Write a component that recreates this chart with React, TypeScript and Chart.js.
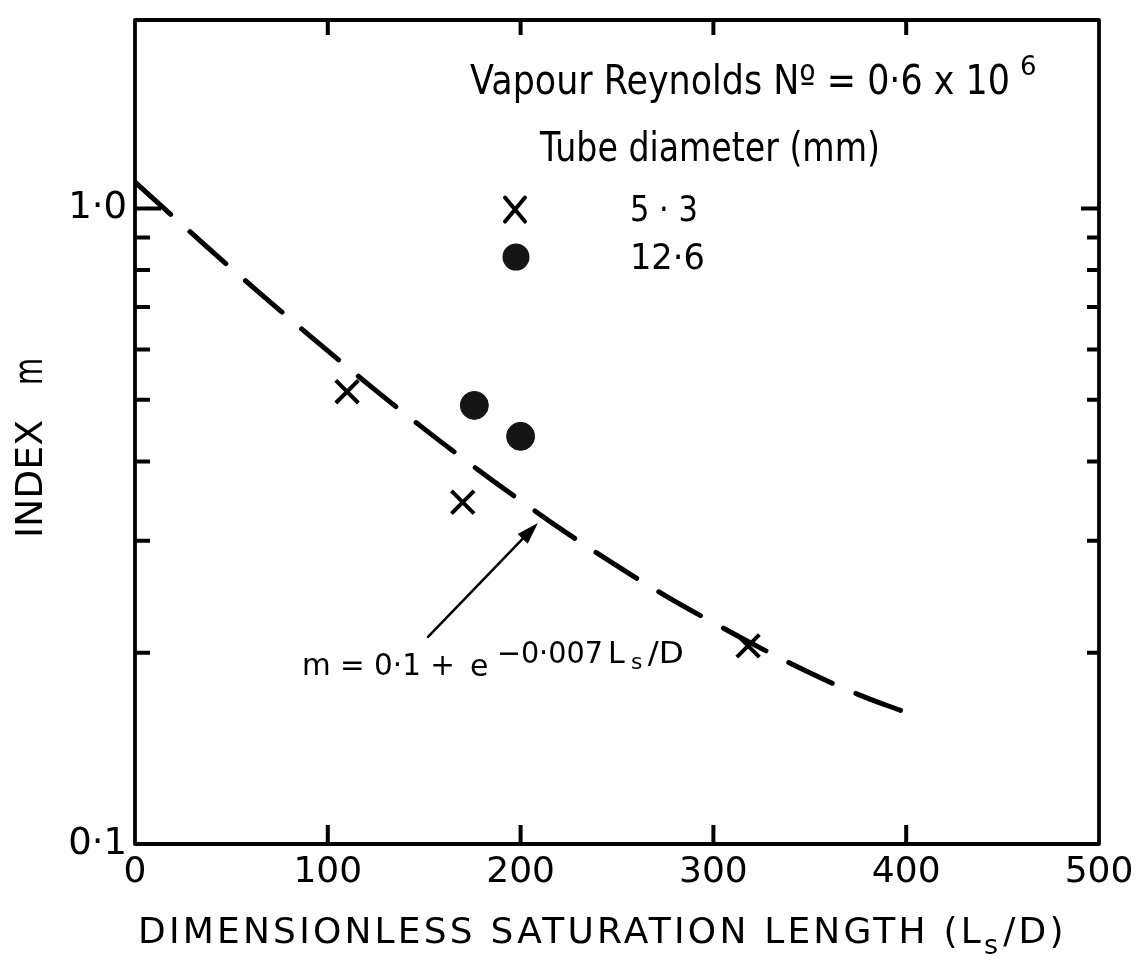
import React, { useEffect, useRef } from 'react';
import { Chart, registerables } from 'chart.js';

Chart.register(...registerables);

// ---- data ----
const curveLsD = [0, 25, 50, 75, 100, 125, 150, 175, 200, 225, 250, 275, 300, 325, 350, 375, 400];
const curveM = [1.1, 0.94, 0.805, 0.692, 0.597, 0.517, 0.45, 0.394, 0.347, 0.307, 0.274, 0.246, 0.223, 0.203, 0.186, 0.172, 0.161];

const tube53LsD = [110, 170, 318];
const tube53M = [0.515, 0.345, 0.205];

const tube126LsD = [176, 200];
const tube126M = [0.49, 0.438];

const xTickMarks = [100, 200, 300, 400];
const yMajorTicks = [0.1, 1.0];
const yMajorLabels = ['0·1', '1·0'];
const yMinorTicks = [0.2, 0.3, 0.4, 0.5, 0.6, 0.7, 0.8, 0.9];

const legendTitle = 'Tube diameter (mm)';
const legendLabels = ['5 · 3', '12·6'];
const headerText = 'Vapour Reynolds Nº = 0·6 x 10';
const headerExp = '6';

const FONT = '"DejaVu Sans", sans-serif';

function drawText(ctx: CanvasRenderingContext2D, s: string, x: number, y: number, size: number, width?: number) {
  ctx.save();
  ctx.font = `${size}px ${FONT}`;
  ctx.textAlign = 'left';
  ctx.textBaseline = 'alphabetic';
  const w = ctx.measureText(s).width;
  ctx.translate(x, y);
  if (width) ctx.scale(width / w, 1);
  ctx.fillText(s, 0, 0);
  ctx.restore();
}

const framePlugin = {
  id: 'frameAndNotes',
  afterDraw(chart: any) {
    const { ctx, chartArea, scales } = chart;
    const { left, right, top, bottom } = chartArea;
    const xs = scales.x;
    const ys = scales.y;
    const X = (v: number) => xs.getPixelForValue(v);
    const Y = (v: number) => ys.getPixelForValue(v);
    ctx.save();
    ctx.strokeStyle = '#000';
    ctx.fillStyle = '#000';
    // frame
    ctx.lineWidth = 3.8;
    ctx.lineJoin = 'round';
    ctx.strokeRect(left, top, right - left, bottom - top);
    // inward ticks
    ctx.lineWidth = 4;
    ctx.lineCap = 'butt';
    ctx.beginPath();
    for (const v of xTickMarks) {
      const px = X(v);
      ctx.moveTo(px, bottom);
      ctx.lineTo(px, bottom - 19);
      ctx.moveTo(px, top);
      ctx.lineTo(px, top + 15);
    }
    for (const v of yMinorTicks) {
      const py = Y(v);
      ctx.moveTo(left, py);
      ctx.lineTo(left + 15, py);
      ctx.moveTo(right, py);
      ctx.lineTo(right - 12, py);
    }
    const p1 = Y(1.0);
    ctx.moveTo(left, p1);
    ctx.lineTo(left + 26, p1);
    ctx.moveTo(right, p1);
    ctx.lineTo(right - 18, p1);
    ctx.stroke();

    // y axis title (rotated)
    ctx.save();
    ctx.translate(42, 538);
    ctx.rotate(-Math.PI / 2);
    drawText(ctx, 'INDEX', 0, 0, 37, 118);
    drawText(ctx, 'm', 153, 0, 40, 27);
    ctx.restore();

    // x axis title with subscript
    ctx.save();
    (ctx as any).letterSpacing = '3.2px';
    ctx.font = `36px ${FONT}`;
    let cx = 138;
    const base = 943;
    const part1 = 'DIMENSIONLESS SATURATION LENGTH (L';
    ctx.fillText(part1, cx, base);
    cx += ctx.measureText(part1).width;
    ctx.font = `27px ${FONT}`;
    ctx.fillText('s', cx, base + 11);
    cx += ctx.measureText('s').width + 2;
    ctx.font = `36px ${FONT}`;
    ctx.fillText('/D)', cx, base);
    ctx.restore();

    // header
    drawText(ctx, headerText, X(173.8), Y(1.512), 41, X(453.8) - X(173.8));
    drawText(ctx, headerExp, X(459), Y(1.624), 26);
    drawText(ctx, legendTitle, X(210.1), Y(1.188), 40, X(386.4) - X(210.1));

    // legend markers
    const lx = X(197.1), ly = Y(0.9964);
    ctx.lineWidth = 4;
    ctx.lineCap = 'round';
    ctx.beginPath();
    ctx.moveTo(lx - 10, ly - 12);
    ctx.lineTo(lx + 10, ly + 12);
    ctx.moveTo(lx + 10, ly - 12);
    ctx.lineTo(lx - 10, ly + 12);
    ctx.stroke();
    drawText(ctx, legendLabels[0], X(256.7), Y(0.9544), 36, 68);

    ctx.fillStyle = '#151515';
    ctx.beginPath();
    ctx.arc(X(197.6), Y(0.8386), 13.5, 0, Math.PI * 2);
    ctx.fill();
    ctx.fillStyle = '#000';
    drawText(ctx, legendLabels[1], X(256.7), Y(0.803), 36, 75);

    // formula
    const fb = Y(0.1848);
    drawText(ctx, 'm = 0·1 +', X(86.6), fb, 30, 153);
    drawText(ctx, 'e', X(173.8), fb + 1, 30);
    const sb = fb - 12;
    drawText(ctx, '−0·007', X(187.7), sb, 30, 106);
    drawText(ctx, 'L', X(245.3), sb, 30);
    drawText(ctx, 's', X(257.2), sb + 6, 22);
    drawText(ctx, '/D', X(266), sb, 30, 36);

    // arrow
    const ax0 = X(152), ay0 = Y(0.2118);
    const ax1 = X(209), ay1 = Y(0.32);
    const ang = Math.atan2(ay1 - ay0, ax1 - ax0);
    ctx.lineWidth = 2.5;
    ctx.lineCap = 'round';
    ctx.beginPath();
    ctx.moveTo(ax0, ay0);
    ctx.lineTo(ax1 - 18 * Math.cos(ang), ay1 - 18 * Math.sin(ang));
    ctx.stroke();
    ctx.beginPath();
    ctx.moveTo(ax1, ay1);
    ctx.lineTo(ax1 - 22 * Math.cos(ang) + 7 * Math.sin(ang), ay1 - 22 * Math.sin(ang) - 7 * Math.cos(ang));
    ctx.lineTo(ax1 - 22 * Math.cos(ang) - 7 * Math.sin(ang), ay1 - 22 * Math.sin(ang) + 7 * Math.cos(ang));
    ctx.closePath();
    ctx.fill();

    ctx.restore();
  },
};

export default function App() {
  const ref = useRef<HTMLCanvasElement | null>(null);
  useEffect(() => {
    if (!ref.current) return;
    const chart = new Chart(ref.current, {
      type: 'scatter',
      data: {
        datasets: [
          {
            label: 'm = 0·1 + e^(−0·007 Ls/D)',
            data: curveLsD.map((x, i) => ({ x, y: curveM[i] })),
            showLine: true,
            borderColor: '#000',
            borderWidth: 5,
            borderDash: [48, 26],
            borderCapStyle: 'round',
            pointRadius: 0,
            tension: 0.4,
            fill: false,
          } as any,
          {
            label: '5·3',
            data: tube53LsD.map((x, i) => ({ x, y: tube53M[i] })),
            pointStyle: 'crossRot',
            pointRadius: 16,
            borderColor: '#000',
            borderWidth: 4,
            showLine: false,
          },
          {
            label: '12·6',
            data: tube126LsD.map((x, i) => ({ x, y: tube126M[i] })),
            pointStyle: 'circle',
            pointRadius: 14,
            backgroundColor: '#151515',
            borderColor: '#151515',
            borderWidth: 1,
            showLine: false,
          },
        ],
      },
      options: {
        animation: false,
        responsive: false,
        devicePixelRatio: 1,
        layout: { padding: { left: 0, top: 13, right: 43, bottom: 0 } },
        plugins: {
          legend: { display: false },
          tooltip: { enabled: false },
          title: { display: false },
        },
        scales: {
          x: {
            type: 'linear',
            min: 0,
            max: 500,
            grid: { display: false, drawTicks: false },
            border: { display: false },
            ticks: {
              stepSize: 100,
              padding: 7,
              color: '#000',
              maxRotation: 0,
              autoSkip: false,
              font: { family: FONT, size: 36 },
            },
            afterFit(s: any) {
              s.height = 117;
              s.paddingLeft = 0;
              s.paddingRight = 0;
            },
          },
          y: {
            type: 'logarithmic',
            min: 0.1,
            max: 1.98,
            grid: { display: false, drawTicks: false },
            border: { display: false },
            ticks: {
              padding: 8,
              color: '#000',
              autoSkip: false,
              font: { family: FONT, size: 37 },
              callback: (v: any) => {
                const i = yMajorTicks.findIndex((t) => Math.abs(t - Number(v)) < 1e-9);
                return i >= 0 ? yMajorLabels[i] : '';
              },
            },
            afterBuildTicks(s: any) {
              s.ticks = yMajorTicks.map((value) => ({ value }));
            },
            afterFit(s: any) {
              s.width = 135;
              s.paddingTop = 0;
              s.paddingBottom = 0;
            },
          },
        },
      } as any,
      plugins: [framePlugin],
    });
    return () => chart.destroy();
  }, []);
  return (
    <div style={{ position: 'absolute', left: 0, top: 0, width: 1142, height: 961, background: '#fff' }}>
      <canvas ref={ref} width={1142} height={961} style={{ display: 'block' }} />
    </div>
  );
}
